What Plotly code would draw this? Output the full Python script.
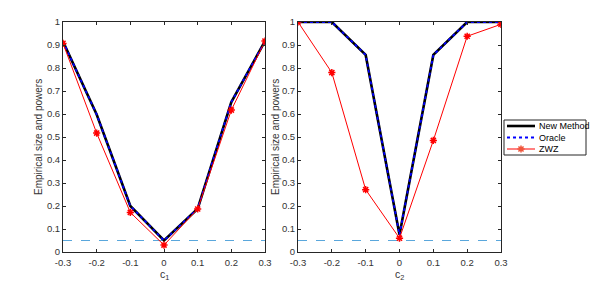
import plotly.graph_objects as go

c_vals = [-0.3, -0.2, -0.1, 0.0, 0.1, 0.2, 0.3]
x_tick_text = ["-0.3", "-0.2", "-0.1", "0", "0.1", "0.2", "0.3"]
y_tick_vals = [0, 0.1, 0.2, 0.3, 0.4, 0.5, 0.6, 0.7, 0.8, 0.9, 1]
y_tick_text = ["0", "0.1", "0.2", "0.3", "0.4", "0.5", "0.6", "0.7", "0.8", "0.9", "1"]

new_c1 = [0.915, 0.598, 0.200, 0.050, 0.188, 0.652, 0.917]
oracle_c1 = [0.915, 0.598, 0.200, 0.050, 0.188, 0.652, 0.917]
zwz_c1 = [0.907, 0.517, 0.172, 0.030, 0.187, 0.617, 0.917]

new_c2 = [1.0, 1.0, 0.857, 0.075, 0.857, 1.0, 1.0]
oracle_c2 = [1.0, 1.0, 0.857, 0.075, 0.857, 1.0, 1.0]
zwz_c2 = [1.0, 0.780, 0.271, 0.060, 0.485, 0.938, 0.990]

nominal = 0.05
series_names = ["New Method", "Oracle", "ZWZ"]

FONT = "Liberation Sans, Arial, sans-serif"
AX = "#262626"
TXT = "#333333"

styles = {
    "New Method": dict(mode="lines", line=dict(color="black", width=2.6)),
    "Oracle": dict(mode="lines", line=dict(color="#0000ff", width=1.8, dash="dot")),
    "ZWZ": dict(mode="lines+markers", line=dict(color="#ff0000", width=1),
                marker=dict(symbol="asterisk-open", size=6, line=dict(color="#ff0000", width=1.5))),
}

fig = go.Figure()

for i, (new, orc, zwz) in enumerate([(new_c1, oracle_c1, zwz_c1), (new_c2, oracle_c2, zwz_c2)]):
    xa = "x" if i == 0 else "x2"
    ya = "y" if i == 0 else "y2"
    fig.add_trace(go.Scatter(x=[c_vals[0], c_vals[-1]], y=[nominal, nominal], mode="lines",
                             line=dict(color="#5aa7dc", width=1, dash="dash"),
                             showlegend=False, xaxis=xa, yaxis=ya, hoverinfo="skip"))
    for name, vals in zip(series_names, [new, orc, zwz]):
        fig.add_trace(go.Scatter(x=c_vals, y=vals, name=name, showlegend=False,
                                 xaxis=xa, yaxis=ya, **styles[name]))

W, H = 604, 285
ytop, ybot = 22, 252
L1, R1 = 63, 265
L2, R2 = 298, 501

# manual legend (MATLAB style), drawn in a pixel-space overlay axis
leg_x0, leg_x1, leg_y0, leg_y1 = 504, 586, 120, 155
row_y = [126, 137.5, 149]
for name, yy in zip(series_names, row_y):
    st = styles[name]
    fig.add_trace(go.Scatter(x=[507, 535], y=[yy, yy], mode="lines", line=st["line"],
                             showlegend=False, xaxis="x3", yaxis="y3", hoverinfo="skip"))
    if name == "ZWZ":
        fig.add_trace(go.Scatter(x=[521], y=[yy], mode="markers", marker=st["marker"],
                                 showlegend=False, xaxis="x3", yaxis="y3", hoverinfo="skip"))
    fig.add_annotation(x=537, y=yy, xref="x3", yref="y3", text=name, showarrow=False,
                       xanchor="left", yanchor="middle",
                       font=dict(size=9, color="black", family=FONT))
fig.add_shape(type="rect", x0=leg_x0, x1=leg_x1, y0=leg_y0, y1=leg_y1, xref="x3", yref="y3",
              line=dict(color=AX, width=1), fillcolor="rgba(255,255,255,0)", layer="below")

common_x = dict(range=[-0.3, 0.3], tickvals=c_vals, ticktext=x_tick_text,
                ticks="inside", ticklen=3, tickcolor=AX, showline=True, linecolor=AX,
                linewidth=1, mirror="allticks", showgrid=False, zeroline=False,
                ticklabelstandoff=2,
                tickfont=dict(size=9.5, color=TXT, family=FONT), automargin=False)
common_y = dict(range=[0, 1], tickvals=y_tick_vals, ticktext=y_tick_text,
                ticks="inside", ticklen=3, tickcolor=AX, showline=True, linecolor=AX,
                linewidth=1, mirror="allticks", showgrid=False, zeroline=False,
                tickfont=dict(size=9.5, color=TXT, family=FONT), automargin=False,
                domain=[1 - ybot / H, 1 - ytop / H])

fig.update_layout(
    width=W, height=H,
    margin=dict(l=0, r=0, t=0, b=0, autoexpand=False),
    paper_bgcolor="white", plot_bgcolor="rgba(0,0,0,0)",
    xaxis=dict(domain=[L1 / W, R1 / W], anchor="y", **common_x),
    yaxis=dict(anchor="x", **common_y),
    xaxis2=dict(domain=[L2 / W, R2 / W], anchor="y2", **common_x),
    yaxis2=dict(anchor="x2", **common_y),
    xaxis3=dict(domain=[0, 1], range=[0, W], visible=False, anchor="y3", fixedrange=True),
    yaxis3=dict(domain=[0, 1], range=[H, 0], visible=False, anchor="x3", fixedrange=True),
    showlegend=False,
)

# axis titles
for xl, xr, lab in [(L1, R1, "c<sub>1</sub>"), (L2, R2, "c<sub>2</sub>")]:
    fig.add_annotation(x=(xl + xr) / 2, y=275, xref="x3", yref="y3", text=lab, showarrow=False,
                       xanchor="center", yanchor="middle", font=dict(size=10.5, color=TXT, family=FONT))
for xpos in [38, 275]:
    fig.add_annotation(x=xpos, y=(ytop + ybot) / 2, xref="x3", yref="y3",
                       text="Empirical size and powers", showarrow=False, textangle=-90,
                       xanchor="center", yanchor="middle", font=dict(size=10, color=TXT, family=FONT))

fig.write_html("out.html", config={"displayModeBar": False},
               post_script="document.body.style.margin='0';document.body.style.overflow='hidden';")
